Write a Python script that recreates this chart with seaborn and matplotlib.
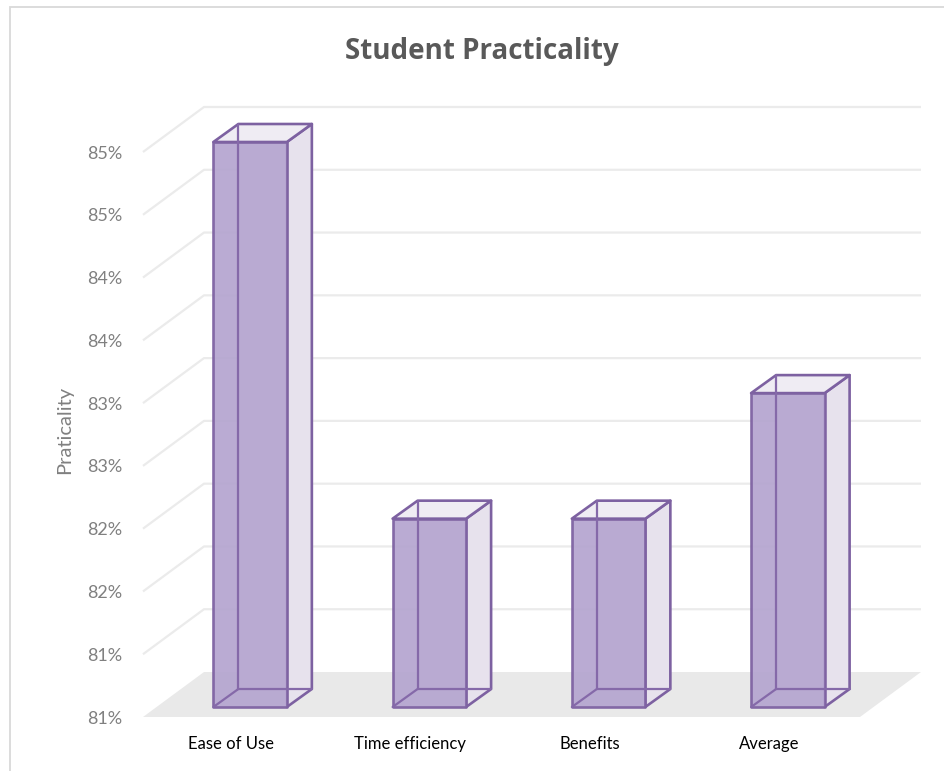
import math
import matplotlib
matplotlib.use("Agg")
import matplotlib.pyplot as plt
from matplotlib.patches import Polygon, Rectangle
from matplotlib.ticker import FuncFormatter, FixedLocator
from matplotlib.transforms import ScaledTranslation
import pandas as pd
import seaborn as sns

# ---- data ----
categories = ["Ease of Use", "Time efficiency", "Benefits", "Average"]
practicality = [85.0, 82.0, 82.0, 83.0]
y_ticks = [80.5, 81.0, 81.5, 82.0, 82.5, 83.0, 83.5, 84.0, 84.5, 85.0]
title = "Student Practicality"
y_label = "Praticality"

FLOOR = y_ticks[0]

sns.set_theme(style="white")
plt.rcParams["font.family"] = ["Lato", "DejaVu Sans"]

W, H = 945, 771
fig = plt.figure(figsize=(W / 100, H / 100), dpi=100)
# axes = plane of the bars' front faces
ax = fig.add_axes([156 / W, (H - 707) / H, 717 / W, 565 / H])
ax.set_facecolor("none")

df = pd.DataFrame({"category": categories, "value": practicality})
FRONT = "#b5a5d0"
EDGE = "#7d61a1"
SIDE = "#e7e2ed"
TOP = "#efecf3"
sns.barplot(data=df, x="category", y="value", ax=ax, width=0.41,
            color=FRONT, saturation=1, edgecolor=EDGE, linewidth=1.9, zorder=5)
ax.set_xlim(-0.525, 3.475)
ax.set_ylim(FLOOR, y_ticks[-1])

# bars start at the floor
for p in ax.patches:
    top = p.get_y() + p.get_height()
    p.set_y(FLOOR)
    p.set_height(top - FLOOR)

fig.canvas.draw()
to_disp = ax.transData.transform
to_data = ax.transData.inverted().transform


def shift(pt, dx, dy):
    d = to_disp(pt)
    return tuple(to_data((d[0] + dx, d[1] + dy)))

# depth offsets in pixels (display y is up)
FRONT_EDGE = (-13, -10)    # floor front edge relative to bar front plane
BACK_WALL = (48, 35)       # back wall relative to bar front plane
BAR_DEPTH = (25, 18)       # bar back face relative to its front face

x0, x1 = ax.get_xlim()

# floor
floor_pts = [shift((x0, FLOOR), *FRONT_EDGE), shift((x1, FLOOR), *FRONT_EDGE),
             shift((x1, FLOOR), *BACK_WALL), shift((x0, FLOOR), *BACK_WALL)]
ax.add_patch(Polygon(floor_pts, closed=True, facecolor="#e9e9e9",
                     edgecolor="none", zorder=1, clip_on=False))

# gridlines (left wall + back wall)
for v in y_ticks[1:]:
    a = shift((x0, v), *FRONT_EDGE)
    b = shift((x0, v), *BACK_WALL)
    c = shift((x1, v), *BACK_WALL)
    ax.plot([a[0], b[0], c[0]], [a[1], b[1], c[1]], color="#ebebeb",
            lw=1.6, zorder=1, clip_on=False, solid_capstyle="butt")

# 3D bar pieces
for p in ax.patches[:len(categories)]:
    bx, by, bw, bh = p.get_x(), p.get_y(), p.get_width(), p.get_height()
    fl, fr = (bx, by), (bx + bw, by)
    tl, tr = (bx, by + bh), (bx + bw, by + bh)
    bfl, bfr = shift(fl, *BAR_DEPTH), shift(fr, *BAR_DEPTH)
    btl, btr = shift(tl, *BAR_DEPTH), shift(tr, *BAR_DEPTH)
    ax.add_patch(Polygon([bfl, bfr, btr, btl], closed=True, facecolor=TOP,
                         edgecolor="none", zorder=2, clip_on=False))
    ax.add_patch(Polygon([fr, bfr, btr, tr], closed=True, facecolor=SIDE,
                         edgecolor=EDGE, lw=1.9, zorder=3, clip_on=False,
                         joinstyle="round"))
    ax.add_patch(Polygon([tl, tr, btr, btl], closed=True, facecolor=TOP,
                         edgecolor=EDGE, lw=1.9, zorder=3, clip_on=False,
                         joinstyle="round"))
    for s, e in [(fl, bfl), (bfl, bfr), (bfl, btl)]:
        ax.plot([s[0], e[0]], [s[1], e[1]], color="#8569a9", lw=1.6,
                zorder=6, clip_on=False)
    p.set_clip_on(False)
    p.set_alpha(0.93)
    p.set_joinstyle("round")

# axes styling
for s in ax.spines.values():
    s.set_visible(False)
ax.grid(False)
ax.yaxis.set_major_locator(FixedLocator(y_ticks))
ax.yaxis.set_major_formatter(FuncFormatter(lambda v, _: f"{int(math.floor(v + 0.5))}%"))
ax.tick_params(axis="y", length=0, pad=24, labelsize=13, labelcolor="#808080")
ax.tick_params(axis="x", length=0, pad=21, labelsize=12, labelcolor="#000000")
for lab in ax.get_yticklabels():
    lab.set_transform(lab.get_transform() + ScaledTranslation(0, -10 / 100, fig.dpi_scale_trans))
for lab in ax.get_xticklabels():
    lab.set_transform(lab.get_transform() + ScaledTranslation(-19 / 100, 0, fig.dpi_scale_trans))
ax.set_xlabel("")
ax.set_ylabel("")

fig.text(65 / W, 1 - 430 / H, y_label, rotation=90, ha="center", va="center",
         fontsize=14.5, color="#808080")
fig.text(482 / W, 1 - 52 / H, title, ha="center", va="center",
         fontsize=20, fontweight="bold", color="#595959",
         family=["Open Sans", "DejaVu Sans"])

# chart border (left and top visible)
fig.patches.append(Rectangle((10 / W, -0.05), 1.2, (H - 7) / H + 0.05,
                             transform=fig.transFigure, fill=False,
                             edgecolor="#d9d9d9", lw=1.3))

fig.savefig("out.png", dpi=100)
